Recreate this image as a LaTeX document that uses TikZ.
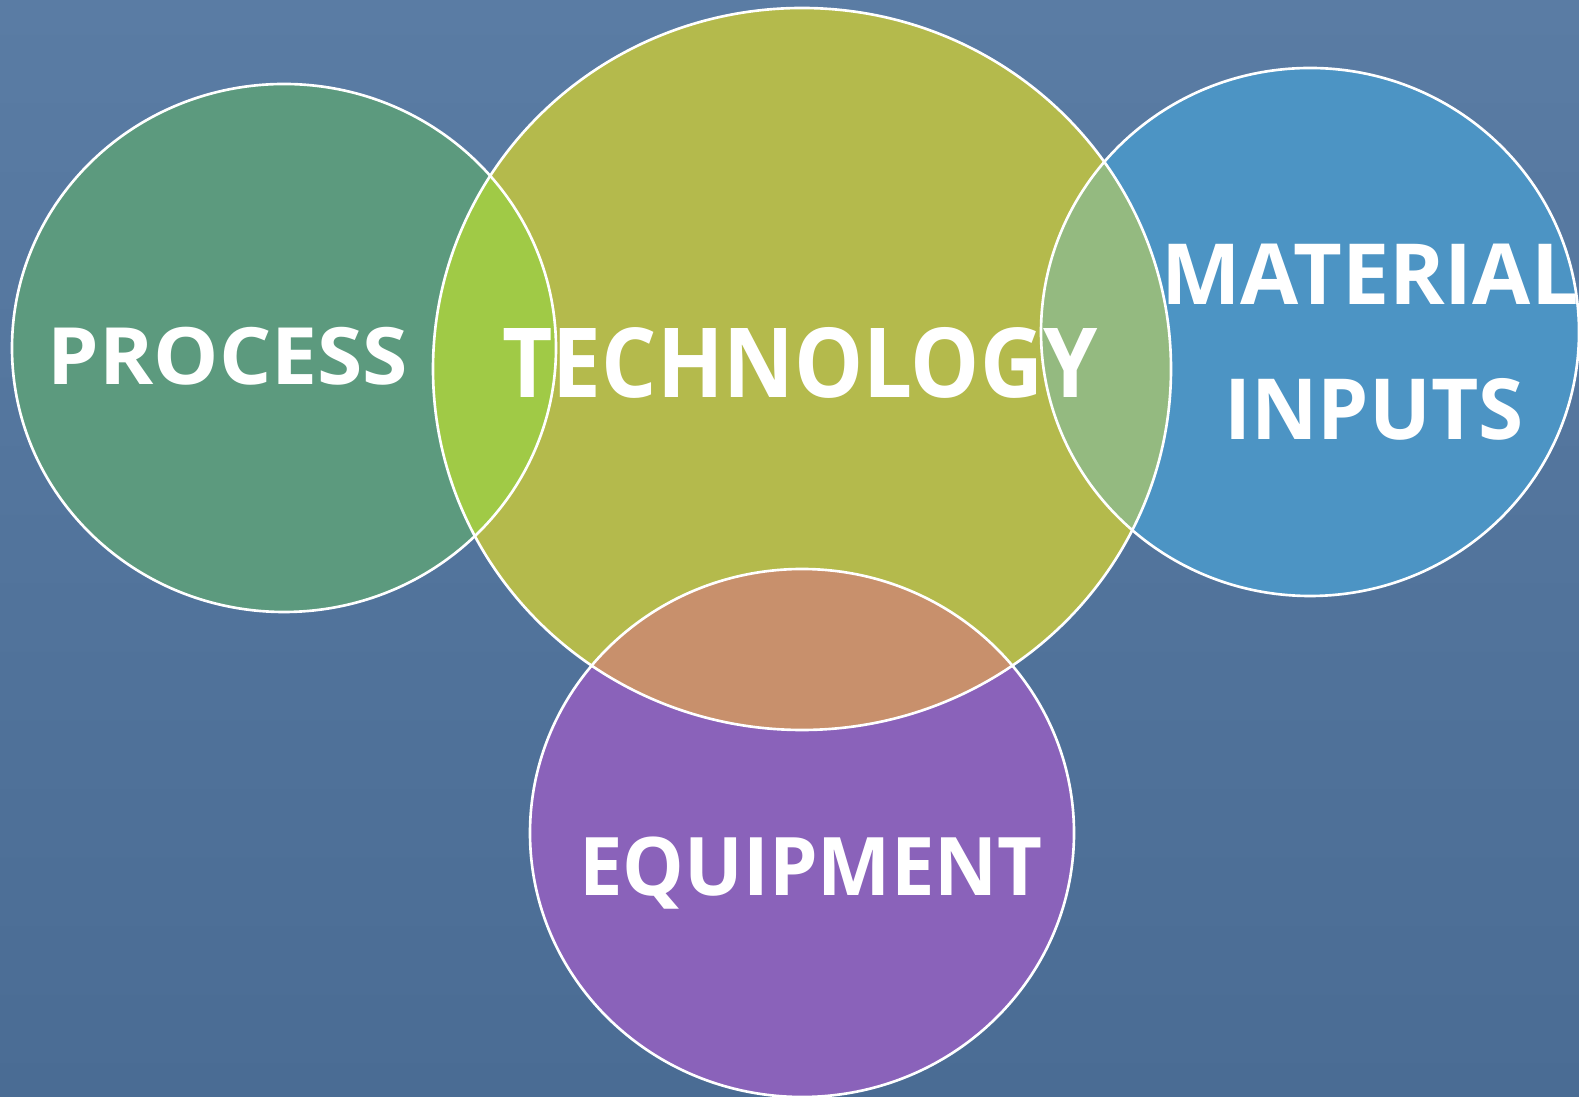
\documentclass[tikz,border=0pt]{standalone}
\usepackage{fontspec}
\setmainfont{Open Sans}
\definecolor{bgtop}{HTML}{5A7CA4}
\definecolor{bgbot}{HTML}{4A6C94}
\definecolor{procfill}{HTML}{5C9A7E}
\definecolor{techfill}{HTML}{B4BA4C}
\definecolor{matfill}{HTML}{4C94C4}
\definecolor{equipfill}{HTML}{8A62BA}
\definecolor{protech}{HTML}{A0CA46}
\definecolor{techmat}{HTML}{94BA80}
\definecolor{techequip}{HTML}{C8906C}
\tikzset{
  rim/.style={draw=white, line width=0.75pt},
  label/.style={text=white, font=\bfseries, anchor=base, inner sep=0pt, transform shape}
}
\begin{document}
\begin{tikzpicture}
\shade[top color=bgtop, bottom color=bgbot] (0,0) rectangle (15.79,10.97);
\useasboundingbox (0,0) rectangle (15.79,10.97);
%% circles
\fill[procfill] (2.84,7.49) ellipse (2.72 and 2.64);
\fill[techfill] (8.02,7.28) ellipse (3.69 and 3.61);
\fill[matfill] (13.10,7.65) ellipse (2.69 and 2.64);
\fill[equipfill] (8.02,2.64) ellipse (2.72 and 2.64);
%% overlaps
\begin{scope}
  \clip (8.02,7.28) ellipse (3.69 and 3.61);
  \fill[protech] (2.84,7.49) ellipse (2.72 and 2.64);
  \fill[techmat] (13.10,7.65) ellipse (2.69 and 2.64);
  \fill[techequip] (8.02,2.64) ellipse (2.72 and 2.64);
\end{scope}
%% rims
\draw[rim] (2.84,7.49) ellipse (2.72 and 2.64);
\draw[rim] (13.10,7.65) ellipse (2.69 and 2.64);
\draw[rim] (8.02,7.28) ellipse (3.69 and 3.61);
\draw[rim] (8.02,2.64) ellipse (2.72 and 2.64);
%% labels
\node[label, xscale=1.04, font=\bfseries\fontsize{22.5}{26}\selectfont] (process) at (2.28,7.12) {PROCESS};
\node[label, xscale=0.9, font=\bfseries\fontsize{27.5}{32}\selectfont] (technology) at (8.00,6.99) {TECHNOLOGY};
\node[label, font=\bfseries\fontsize{24}{28}\selectfont] (material) at (13.70,7.92) {MATERIAL};
\node[label, xscale=0.97, font=\bfseries\fontsize{24}{28}\selectfont] (inputs) at (13.74,6.57) {INPUTS};
\node[label, xscale=0.96, font=\bfseries\fontsize{23}{27}\selectfont] (equipment) at (8.11,2.01) {EQUIPMENT};
\end{tikzpicture}
\end{document}
